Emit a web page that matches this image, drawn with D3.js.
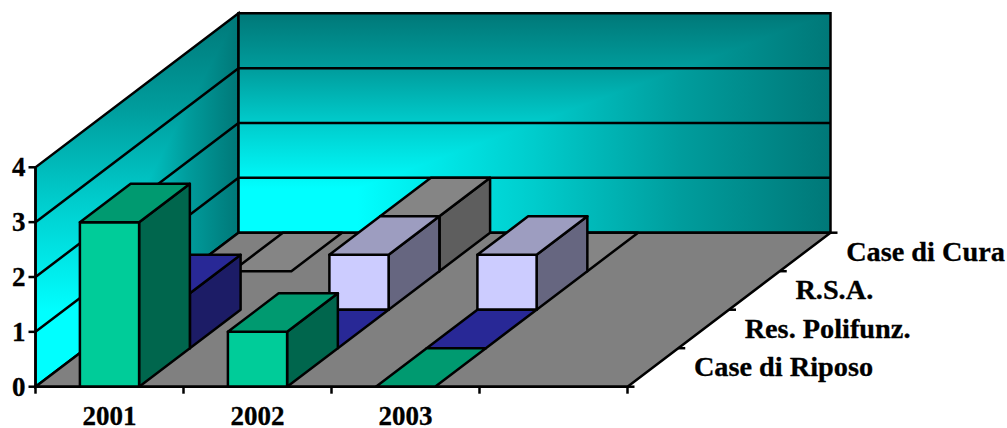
<!DOCTYPE html>
<html><head><meta charset="utf-8">
<script src="https://cdn.jsdelivr.net/npm/d3@7"></script>
<style>html,body{margin:0;padding:0;background:#fff}svg{display:block}
text{font-family:"Liberation Serif",serif;font-weight:bold;fill:#000;stroke:#000;stroke-width:.3px}</style>
</head><body><div id="c"></div>
<script>
const categories = ["2001","2002","2003",""];
const seriesNames = ["Case di Riposo","Res. Polifunz.","R.S.A.","Case di Cura"];
const caseDiRiposo = [3,1,0,null];
const resPolifunz = [1,0,0,null];
const rsa = [null,1,1,null];
const caseDiCura = [0,1,0,null];
const seriesValues = [caseDiRiposo,resPolifunz,rsa,caseDiCura];
const yTicks = [0,1,2,3,4];
const faceFront = ["#00cc99","#3636c8","#ccccff","#aaaaaa"];
const faceTop = ["#009a70","#282896","#9d9dc0","#858585"];
const faceSide = ["#00664d","#1c1c66","#666680","#5e5e5e"];
const wallStops = [[0,"#00ffff"],[.2,"#00ffff"],[.5,"#00cccc"],[.75,"#009c9c"],[1,"#007878"]];

const W=1007,H=428;
const svg=d3.select("#c").append("svg").attr("width",W).attr("height",H);
const defs=svg.append("defs");
const x=d3.scaleBand().domain(categories).range([35.5,627.5]).paddingInner(0.6).paddingOuter(0.3);
const y=d3.scaleLinear().domain([0,4]).range([386.7,167.3]);
const z=d3.scaleBand().domain(seriesNames).range([0,1]);
const depthX=203, depthY=-154;
const pr=(px,v,d)=>[px+d*depthX, y(v)+d*depthY];
const line=d3.line();
const poly=p=>line(p)+"Z";
const x0=x.range()[0], x1=x.range()[1], step=x.step();
const lw=2.5;

function gradient(id,a,b,c,e){
  const g=defs.append("linearGradient").attr("id",id).attr("gradientUnits","userSpaceOnUse")
    .attr("x1",a).attr("y1",b).attr("x2",c).attr("y2",e);
  wallStops.forEach(s=>g.append("stop").attr("offset",s[0]).attr("stop-color",s[1]));
}
function wall(id,pts){
  const xe=d3.extent(pts,p=>p[0]), ye=d3.extent(pts,p=>p[1]);
  gradient(id+"V",0,ye[1],0,ye[0]);
  gradient(id+"H",xe[0],0,xe[1],0);
  const cp=defs.append("clipPath").attr("id",id+"C");
  cp.append("path").attr("d",poly(pts));
  const g=svg.append("g").attr("clip-path",`url(#${id}C)`);
  g.append("rect").attr("x",xe[0]).attr("y",ye[0]).attr("width",xe[1]-xe[0]).attr("height",ye[1]-ye[0]).attr("fill",`url(#${id}V)`);
  g.append("path").attr("d",poly([[xe[0],ye[1]],[xe[1],ye[1]],[xe[1],ye[0]]])).attr("fill",`url(#${id}H)`);
  svg.append("path").attr("d",poly(pts)).attr("fill","none").attr("stroke","#000").attr("stroke-width",lw);
}
const vTop=yTicks[yTicks.length-1];
wall("side",[pr(x0,0,0),pr(x0,0,1),pr(x0,vTop,1),pr(x0,vTop,0)]);
wall("back",[pr(x0,0,1),pr(x1,0,1),pr(x1,vTop,1),pr(x0,vTop,1)]);

// gridlines
yTicks.slice(1,-1).forEach(v=>{
  svg.append("path").attr("d",line([pr(x0,v,0),pr(x0,v,1),pr(x1,v,1)]))
    .attr("fill","none").attr("stroke","#000").attr("stroke-width",lw);
});
// floor
svg.append("path").attr("d",poly([pr(x0,0,0),pr(x1,0,0),pr(x1,0,1),pr(x0,0,1)]))
  .attr("fill","#808080").attr("stroke","#000").attr("stroke-width",lw).attr("stroke-linejoin","round");

// bars, back to front
const barsG=svg.append("g").attr("stroke","#000").attr("stroke-width",lw).attr("stroke-linejoin","round");
d3.range(seriesNames.length-1,-1,-1).forEach(si=>{
  const d0=z(seriesNames[si]), d1=d0+z.bandwidth();
  categories.forEach((c,ci)=>{
    const v=seriesValues[si][ci];
    if(v===null) return;
    const a=x(c), b=a+x.bandwidth();
    if(v>0){
      barsG.append("path").attr("d",poly([pr(b,0,d0),pr(b,0,d1),pr(b,v,d1),pr(b,v,d0)])).attr("fill",faceSide[si]);
      barsG.append("path").attr("d",poly([pr(a,0,d0),pr(b,0,d0),pr(b,v,d0),pr(a,v,d0)])).attr("fill",faceFront[si]);
    }
    barsG.append("path").attr("d",poly([pr(a,v,d0),pr(b,v,d0),pr(b,v,d1),pr(a,v,d1)])).attr("fill",faceTop[si]);
  });
});

// axes
const ax=svg.append("g").attr("stroke","#000").attr("stroke-width",lw).attr("fill","none");
ax.append("path").attr("d",line([[x0,y(0)],[x1,y(0)]]));
ax.append("path").attr("d",line([[x0,y(0)],[x0,y(vTop)]]));
yTicks.forEach(v=>ax.append("path").attr("d",line([[x0-7,y(v)],[x0,y(v)]])));
d3.range(categories.length+1).forEach(i=>ax.append("path").attr("d",line([[x0+i*step,y(0)],[x0+i*step,y(0)+7]])));
const depthEdges=seriesNames.map(s=>z(s)).concat([1]);
depthEdges.forEach(d=>{const p=pr(x1,0,d);ax.append("path").attr("d",line([p,[p[0]+7,p[1]]]));});

// labels
const fs=27, fsSeries=28.3;
yTicks.forEach(v=>svg.append("text").attr("x",25.5).attr("y",y(v)+9).attr("text-anchor","end").attr("font-size",fs).text(v));
categories.forEach(c=>svg.append("text").attr("x",x(c)+x.bandwidth()/2).attr("y",424.5).attr("text-anchor","middle").attr("font-size",fs).text(c));
seriesNames.forEach(s=>{
  const p=pr(x1,0,z(s)+z.bandwidth()/2);
  svg.append("text").attr("x",p[0]+41).attr("y",p[1]+9).attr("font-size",fsSeries).text(s);
});
</script></body></html>
